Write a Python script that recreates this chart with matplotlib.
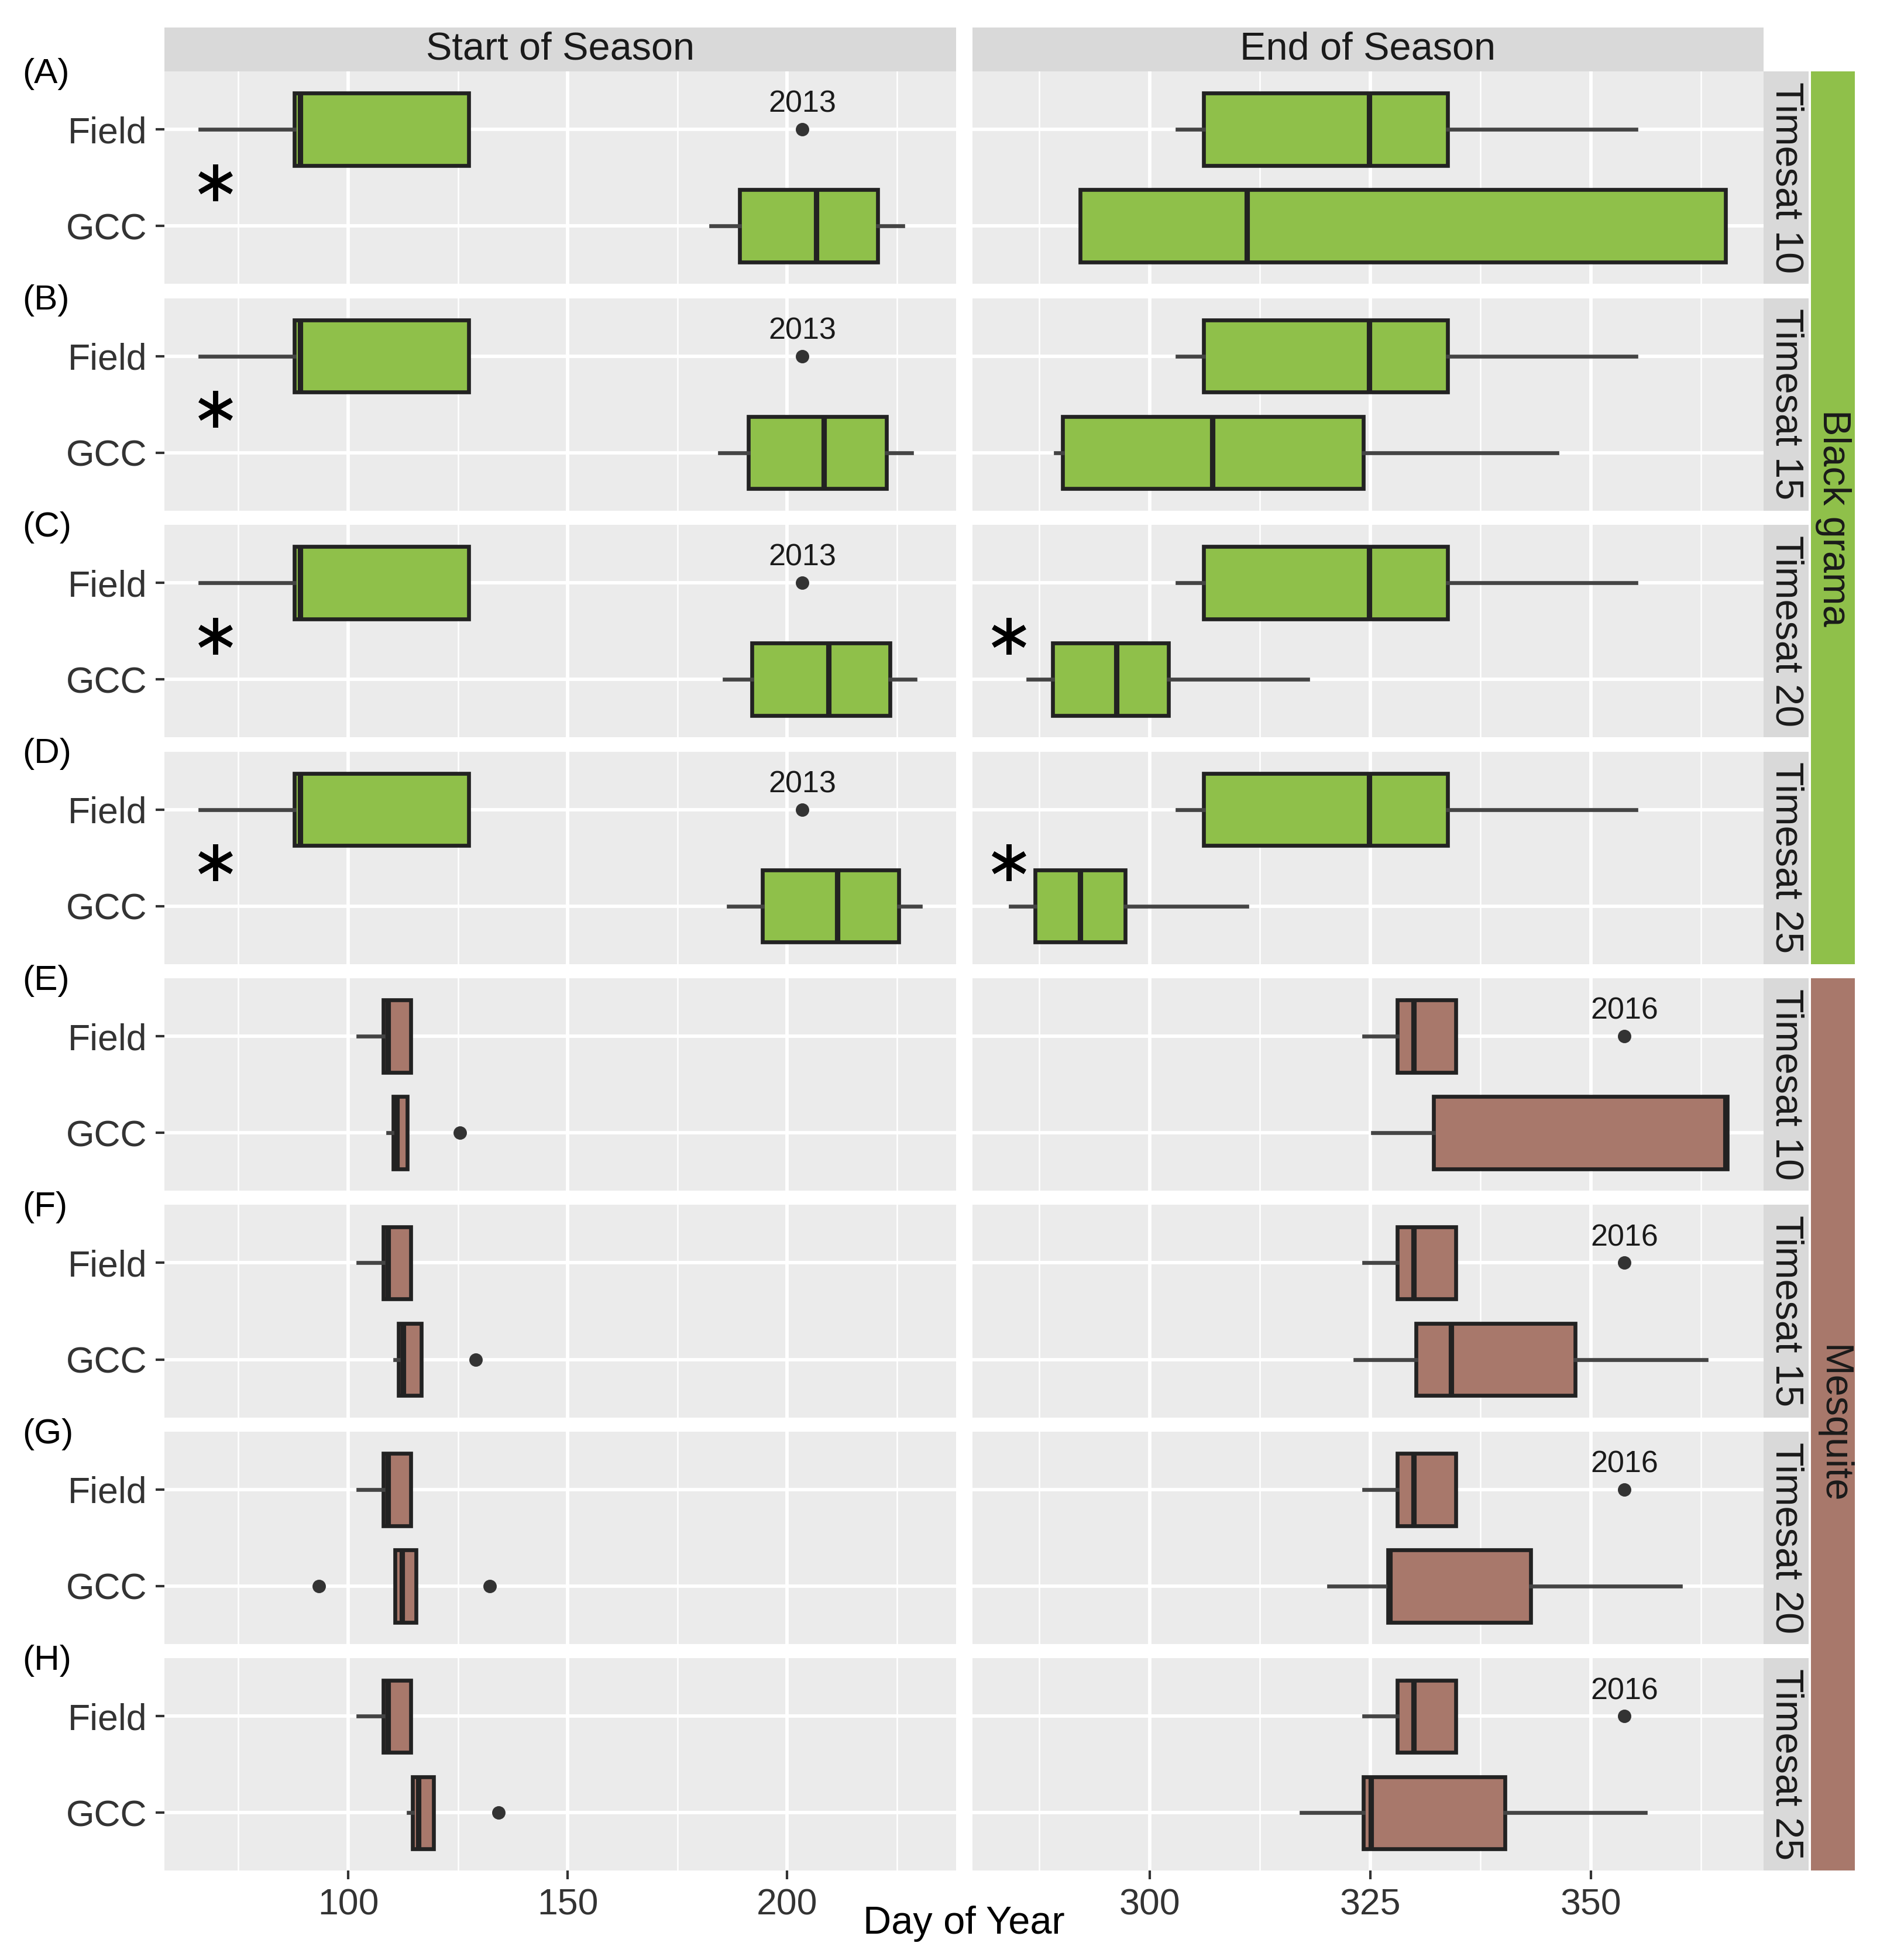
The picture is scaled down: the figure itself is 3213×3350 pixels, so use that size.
import matplotlib
matplotlib.use("Agg")
import matplotlib.pyplot as plt
from matplotlib.ticker import AutoMinorLocator, FixedLocator
import numpy as np

plt.rcParams['font.family'] = ['Liberation Sans', 'DejaVu Sans']

# five-number summaries: [whisker low, Q1, median, Q3, whisker high]
thresholds = ["Timesat 10", "Timesat 15", "Timesat 20", "Timesat 25"]
species = ["Black grama", "Mesquite"]
panel_tags = ["(A)", "(B)", "(C)", "(D)", "(E)", "(F)", "(G)", "(H)"]

# Black grama
bg_sos_field = [66.3, 87.7, 89.1, 127.4, 127.4]
bg_sos_field_out = [203.4]
bg_eos_field = [303.1, 306.1, 324.9, 333.8, 355.1]
bg_sos_gcc = [[182.6, 189.1, 206.6, 220.6, 226.3],
              [184.6, 191.1, 208.3, 222.6, 228.3],
              [185.7, 192.0, 209.4, 223.4, 229.1],
              [186.6, 194.3, 211.4, 225.4, 230.3]]
bg_eos_gcc = [[292.1, 292.1, 311.0, 365.3, 365.3],
              [289.3, 290.1, 307.1, 324.2, 346.2],
              [286.2, 289.0, 296.2, 302.1, 317.9],
              [284.2, 287.0, 292.1, 297.2, 311.0]]
bg_sos_gcc_out = [[], [], [], []]
bg_eos_gcc_out = [[], [], [], []]

# Mesquite
mq_sos_field = [102.3, 108.0, 109.0, 114.3, 114.3]
mq_eos_field = [324.3, 328.1, 329.9, 334.7, 334.7]
mq_eos_field_out = [353.8]
mq_sos_gcc = [[109.0, 110.3, 111.0, 113.4, 113.4],
              [110.6, 111.4, 112.5, 116.6, 116.6],
              [110.6, 110.6, 112.2, 115.4, 115.4],
              [113.7, 114.6, 116.0, 119.4, 119.4]]
mq_sos_gcc_out = [[125.4], [129.1], [93.4, 132.3], [134.3]]
mq_eos_gcc = [[325.3, 332.2, 365.3, 365.5, 365.5],
              [323.3, 330.2, 334.2, 348.2, 363.1],
              [320.3, 327.0, 327.2, 343.2, 360.2],
              [317.2, 324.2, 325.1, 340.3, 356.2]]
mq_eos_gcc_out = [[], [], [], []]

# outlier year labels and significance stars: (row, column, x)
outlier_years = [("2013", r, 0, bg_sos_field_out[0]) for r in range(4)] + \
                [("2016", r, 1, mq_eos_field_out[0]) for r in range(4, 8)]
stars = [(0, 0, 69.7), (1, 0, 69.7), (2, 0, 69.7), (3, 0, 69.7),
         (2, 1, 284.0), (3, 1, 284.0)]

colors = {"Black grama": "#8fc04a", "Mesquite": "#a8786b"}

W, H = 1500.0, 1564.0


def fx(x):
    return x / W


def fy(y):
    return 1 - y / H


def stat(five, fliers):
    return dict(whislo=five[0], q1=five[1], med=five[2], q3=five[3],
                whishi=five[4], fliers=fliers)


# x limits with ggplot-like 5% expansion
left_vals = np.array(bg_sos_field + sum(bg_sos_gcc, []) + mq_sos_field + sum(mq_sos_gcc, []) + bg_sos_field_out)
right_vals = np.array(bg_eos_field + sum(bg_eos_gcc, []) + mq_eos_field + sum(mq_eos_gcc, []) + mq_eos_field_out)
xlims = []
for v in (left_vals, right_vals):
    lo = min(v.min(), 284.0 if v.min() > 250 else 66.3)
    hi = v.max()
    d = 0.05 * (hi - lo)
    xlims.append((lo - d, hi + d))

fig = plt.figure(figsize=(3213 / 300, 3350 / 300), dpi=300)

col_x = [(131, 763), (776, 1407)]
row_top0, row_step, row_h = 57, 180.9, 169.5
tick_sets = [[100, 150, 200], [300, 325, 350]]

for r in range(8):
    sp = species[0] if r < 4 else species[1]
    k = r % 4
    if r < 4:
        field = [bg_sos_field, bg_eos_field]
        field_out = [bg_sos_field_out, []]
        gcc = [bg_sos_gcc[k], bg_eos_gcc[k]]
        gcc_out = [bg_sos_gcc_out[k], bg_eos_gcc_out[k]]
    else:
        field = [mq_sos_field, mq_eos_field]
        field_out = [[], mq_eos_field_out]
        gcc = [mq_sos_gcc[k], mq_eos_gcc[k]]
        gcc_out = [mq_sos_gcc_out[k], mq_eos_gcc_out[k]]
    top = row_top0 + r * row_step
    for c in range(2):
        x0, x1 = col_x[c]
        ax = fig.add_axes([fx(x0), fy(top + row_h), fx(x1) - fx(x0), row_h / H])
        ax.set_facecolor("#ebebeb")
        for s in ax.spines.values():
            s.set_visible(False)
        ax.set_axisbelow(True)
        ax.bxp([stat(gcc[c], gcc_out[c]), stat(field[c], field_out[c])],
               positions=[1, 2], widths=0.75, orientation='horizontal',
               patch_artist=True, showcaps=False, showfliers=True,
               boxprops=dict(facecolor=colors[sp], edgecolor="#222222", linewidth=1.6),
               medianprops=dict(color="#222222", linewidth=2.2),
               whiskerprops=dict(color="#444444", linewidth=1.6),
               flierprops=dict(marker='o', markerfacecolor="#333333",
                               markeredgecolor="#333333", markersize=4.5))
        ax.set_xlim(*xlims[c])
        ax.set_ylim(0.4, 2.6)
        ax.xaxis.set_major_locator(FixedLocator(tick_sets[c]))
        ax.xaxis.set_minor_locator(AutoMinorLocator(2))
        ax.set_yticks([1, 2])
        ax.grid(which='major', color='white', linewidth=1.4)
        ax.grid(which='minor', axis='x', color='white', linewidth=0.6)
        ax.tick_params(axis='both', which='major', length=3.5, width=1.0,
                       color="#333333", labelsize=15, labelcolor="#333333")
        ax.tick_params(axis='x', which='minor', length=0)
        if c == 0:
            ax.set_yticklabels(["GCC", "Field"])
        else:
            ax.set_yticklabels([])
            ax.tick_params(axis='y', length=0)
        if r < 7:
            ax.set_xticklabels([])
            ax.tick_params(axis='x', which='major', length=0)
        for lab, rr, cc, xv in outlier_years:
            if rr == r and cc == c:
                ax.text(xv, 2.26, lab, ha='center', va='center', fontsize=12.5, color="#1a1a1a")
        for rr, cc, xv in stars:
            if rr == r and cc == c:
                ax.plot([xv], [1.45], marker=(6, 2, 0), markersize=15,
                        markeredgewidth=2.0, color="black", linestyle='none')

    # threshold strip
    sax = fig.add_axes([fx(1407), fy(top + row_h), fx(1443) - fx(1407), row_h / H])
    sax.set_facecolor("#d9d9d9")
    sax.set_xticks([])
    sax.set_yticks([])
    for s in sax.spines.values():
        s.set_visible(False)
    sax.text(0.5, 0.5, thresholds[k], rotation=-90, ha='center', va='center',
             fontsize=16, color="#1a1a1a", transform=sax.transAxes)
    fig.text(0.012, fy(top + 2), panel_tags[r], ha='left', va='center', fontsize=14.5, color="black")

# species strips
for i, sp in enumerate(species):
    t = row_top0 + i * 4 * row_step
    b = t + 3 * row_step + row_h
    oax = fig.add_axes([fx(1445), fy(b), fx(1480) - fx(1445), (b - t) / H])
    oax.set_facecolor(colors[sp])
    oax.set_xticks([])
    oax.set_yticks([])
    for s in oax.spines.values():
        s.set_visible(False)
    oax.text(0.5, 0.5, sp, rotation=-90, ha='center', va='center',
             fontsize=16, color="#1a1a1a", transform=oax.transAxes)

# column strips
for c, name in enumerate(["Start of Season", "End of Season"]):
    x0, x1 = col_x[c]
    cax = fig.add_axes([fx(x0), fy(57), fx(x1) - fx(x0), 35 / H])
    cax.set_facecolor("#d9d9d9")
    cax.set_xticks([])
    cax.set_yticks([])
    for s in cax.spines.values():
        s.set_visible(False)
    cax.text(0.5, 0.5, name, ha='center', va='center', fontsize=16,
             color="#1a1a1a", transform=cax.transAxes)

fig.text(fx(769), fy(1535), "Day of Year", ha='center', va='center', fontsize=16, color="black")

fig.savefig("out.png", dpi=300, facecolor="white")
